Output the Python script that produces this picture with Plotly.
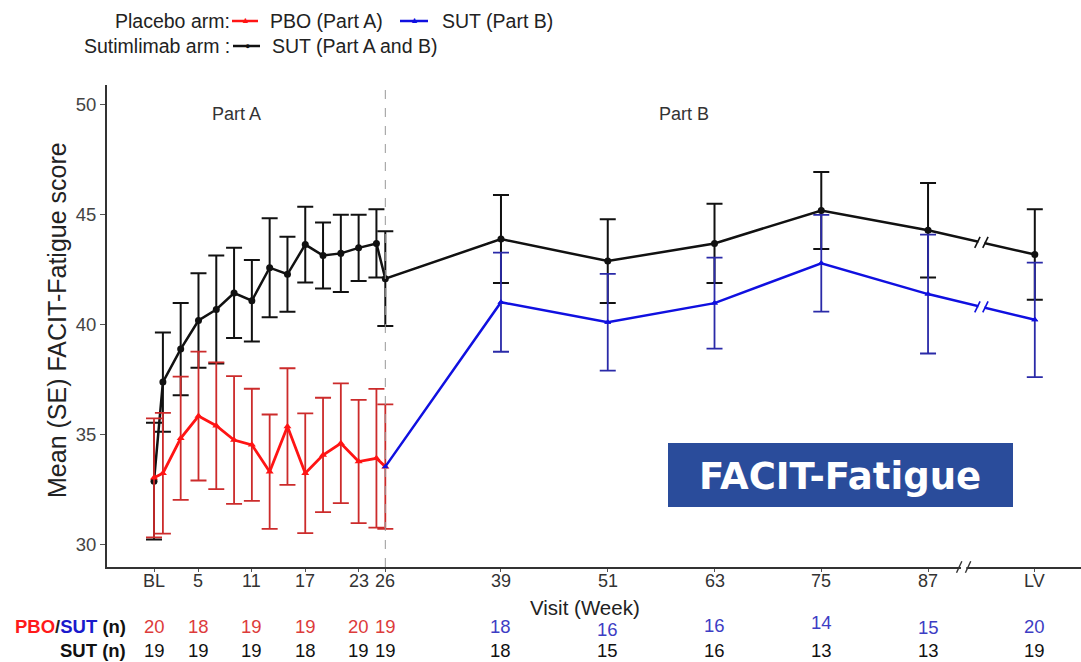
import plotly.graph_objects as go

# ---------------- data ----------------
tick_vals = [0, 5, 11, 17, 23, 26, 39, 51, 63, 75, 87, 99]
tick_text = ["BL", "5", "11", "17", "23", "26", "39", "51", "63", "75", "87", "LV"]

sut_weeks = [0, 1, 3, 5, 7, 9, 11, 13, 15, 17, 19, 21, 23, 25, 26, 39, 51, 63, 75, 87, 99]
sut_mean = [32.9, 37.4, 38.9, 40.2, 40.7, 41.45, 41.1, 42.6, 42.3, 43.65, 43.15, 43.25, 43.5, 43.7, 42.1,
            43.9, 42.9, 43.7, 45.2, 44.3, 43.2]
sut_se = [2.65, 2.25, 2.1, 2.15, 2.45, 2.05, 1.85, 2.25, 1.7, 1.72, 1.5, 1.75, 1.5, 1.55, 2.15,
          2.0, 1.9, 1.8, 1.75, 2.15, 2.06]

pbo_weeks = [0, 1, 3, 5, 7, 9, 11, 13, 15, 17, 19, 21, 23, 25, 26]
pbo_mean = [33.05, 33.26, 34.85, 35.86, 35.42, 34.77, 34.55, 33.33, 35.38, 33.26, 34.09, 34.62, 33.79, 33.94, 33.56]
pbo_se = [2.7, 2.74, 2.8, 2.93, 2.88, 2.9, 2.55, 2.6, 2.65, 2.72, 2.6, 2.72, 2.8, 3.15, 2.83]

sutb_weeks = [39, 51, 63, 75, 87, 99]
sutb_mean = [41.03, 40.12, 40.99, 42.8, 41.4, 40.23]
sutb_se = [2.25, 2.2, 2.07, 2.2, 2.7, 2.6]

n_weeks = [0, 5, 11, 17, 23, 26, 39, 51, 63, 75, 87, 99]
n_pbo_sut = [20, 18, 19, 19, 20, 19, 18, 16, 16, 14, 15, 20]
n_sut = [19, 19, 19, 18, 19, 19, 18, 15, 16, 13, 13, 19]

# ---------------- layout geometry ----------------
W, H = 1081, 662
L, R, T, B = 107, 1081, 85, 567
def px(x):
    return (x - L) / (R - L)
def py(y):
    return (B - y) / (B - T)

# small vertical pixel offsets of the first count row (as laid out in the original slide)
count_dy = [0, 0, 0, 0, 0, 0, 0, 3, -1, -4, 1, 0]

FONT = "Liberation Sans, Arial, sans-serif"
RED = "#ff1414"
RED_ERR = "#cc2b2b"
BLUE = "#1010e0"
BLUE_ERR = "#2a2aa8"
BLACK = "#111111"

fig = go.Figure()

# SUT (Part A and B) - black
fig.add_trace(go.Scatter(
    x=sut_weeks, y=sut_mean, mode="lines+markers",
    line=dict(color=BLACK, width=2.5),
    marker=dict(symbol="circle", size=7, color=BLACK),
    error_y=dict(type="data", array=sut_se, visible=True, color=BLACK, thickness=2, width=8),
    showlegend=False))

# PBO (Part A) - red
fig.add_trace(go.Scatter(
    x=pbo_weeks, y=pbo_mean, mode="lines+markers",
    line=dict(color=RED, width=2.8),
    marker=dict(symbol="triangle-up", size=7, color=RED),
    error_y=dict(type="data", array=pbo_se, visible=True, color=RED_ERR, thickness=1.8, width=8),
    showlegend=False))

# SUT (Part B) - blue, starts from the last PBO point
fig.add_trace(go.Scatter(
    x=[pbo_weeks[-1]] + sutb_weeks, y=[pbo_mean[-1]] + sutb_mean, mode="lines+markers",
    line=dict(color=BLUE, width=2.5),
    marker=dict(symbol="triangle-up", size=6, color=BLUE),
    showlegend=False))
fig.add_trace(go.Scatter(
    x=sutb_weeks, y=sutb_mean, mode="markers",
    marker=dict(symbol="triangle-up", size=6, color=BLUE),
    error_y=dict(type="data", array=sutb_se, visible=True, color=BLUE_ERR, thickness=1.8, width=8),
    showlegend=False))

shapes = []
# Part A / Part B divider
shapes.append(dict(type="line", xref="x", yref="paper", x0=26, x1=26, y0=0, y1=1,
                   line=dict(color="#999999", width=1, dash="dash")))

# break marks on the lines between week 87 and LV
def line_break(wk, y_val, color):
    dx, dy, gap = 0.3, 0.25, 0.45
    shapes.append(dict(type="line", xref="x", yref="y", x0=wk - gap + 0.1, x1=wk + gap - 0.1,
                       y0=y_val, y1=y_val, line=dict(color="white", width=5)))
    for c in (wk - gap, wk + gap):
        shapes.append(dict(type="line", xref="x", yref="y", x0=c - dx, x1=c + dx,
                           y0=y_val - dy, y1=y_val + dy, line=dict(color=color, width=1.6)))

bw = 93
for wks, ys, col in ((sut_weeks, sut_mean, BLACK), (sutb_weeks, sutb_mean, BLUE)):
    x0, x1 = wks[-2], wks[-1]
    y0, y1 = ys[-2], ys[-1]
    yb = y0 + (y1 - y0) * (bw - x0) / (x1 - x0)
    line_break(bw, yb, col)

# break on the x axis
ab = 91
shapes.append(dict(type="line", xref="x", yref="paper", x0=ab - 0.3, x1=ab + 0.3, y0=0, y1=0,
                   line=dict(color="white", width=4)))
for c in (ab - 0.5, ab + 0.5):
    shapes.append(dict(type="line", xref="x", yref="paper", x0=c - 0.3, x1=c + 0.3,
                       y0=-0.012, y1=0.012, line=dict(color="#333333", width=1.4)))

# FACIT-Fatigue box
shapes.append(dict(type="rect", xref="paper", yref="paper", x0=px(668), x1=px(1013),
                   y0=py(507), y1=py(443), fillcolor="#2a4c9b", line=dict(width=0), layer="above"))

# legend lines
for x0, x1, yy, col in ((232, 258, 21, RED), (400, 428, 21, BLUE), (233, 260, 46, BLACK)):
    shapes.append(dict(type="line", xref="paper", yref="paper", x0=px(x0), x1=px(x1),
                       y0=py(yy), y1=py(yy), line=dict(color=col, width=2.5)))

ann = []
def text(x, y, s, size=16, color="#222222", xanchor="left", xref="paper", angle=0, family=FONT):
    ann.append(dict(x=x, y=y, xref=xref, yref="paper", text=s, showarrow=False,
                    xanchor=xanchor, yanchor="middle", textangle=angle,
                    font=dict(family=family, size=size, color=color)))

# legend texts
LG = 19.5
text(px(232), py(21), "Placebo arm:", size=LG, xanchor="right")
text(px(245), py(19.5), "▲", size=9, color=RED, xanchor="center")
text(px(268), py(21), "PBO (Part A)", size=LG)
text(px(414), py(19.5), "▲", size=9, color=BLUE, xanchor="center")
text(px(440), py(21), "SUT (Part B)", size=LG)
text(px(232), py(46), "Sutimlimab arm :", size=LG, xanchor="right")
text(px(247), py(46), "●", size=9, color=BLACK, xanchor="center")
text(px(270), py(46), "SUT (Part A and B)", size=LG)

# part labels
text(px(236), py(114), "Part A", size=18, color="#333333", xanchor="center")
text(px(684), py(114), "Part B", size=18, color="#333333", xanchor="center")

# x tick labels (placed just under the axis)
for v, t in zip(tick_vals, tick_text):
    text(v, py(581), t, size=18, color="#333333", xanchor="center", xref="x")

# axis titles
text(px(585), py(607), "Visit (Week)", size=20.5, color="#222222", xanchor="center")
text(px(57), py(320), "Mean (SE) FACIT-Fatigue score", size=25, color="#222222",
     xanchor="center", angle=-90)

# box text
text(px(840), py(476), "<b>FACIT-Fatigue</b>", size=37, color="white", xanchor="center",
     family="DejaVu Sans, Verdana, sans-serif")

# n table
text(px(128), py(626), "<b><span style='color:#ff1a1a'>PBO</span>/<span style='color:#1a1acc'>SUT</span>"
     " <span style='color:#111111'>(n)</span></b>", size=18.5, xanchor="right")
text(px(128), py(650), "<b>SUT (n)</b>", size=18.5, color="#111111", xanchor="right")
for w, a, b, d in zip(n_weeks, n_pbo_sut, n_sut, count_dy):
    col = "#dd3b3b" if w <= 26 else "#3d3dc4"
    text(w, py(626 + d), str(a), size=18.5, color=col, xanchor="center", xref="x")
    text(w, py(650), str(b), size=18.5, color="#111111", xanchor="center", xref="x")

fig.update_layout(
    width=W, height=H,
    margin=dict(l=L, r=W - R, t=T, b=H - B),
    paper_bgcolor="white", plot_bgcolor="white",
    shapes=shapes, annotations=ann,
    xaxis=dict(range=[(L - 154) / 8.897, (R - 154) / 8.897], tickvals=tick_vals,
               showticklabels=False,
               showgrid=False, zeroline=False, showline=True, linecolor="#333333", linewidth=1.8,
               ticks="outside", ticklen=3, tickcolor="#555555"),
    yaxis=dict(range=[29.0, 50.9], tickvals=[30, 35, 40, 45, 50],
               showgrid=False, zeroline=False, showline=True, linecolor="#333333", linewidth=1.8,
               ticks="outside", ticklen=5, tickcolor="#555555",
               tickfont=dict(family=FONT, size=18.5, color="#444444")),
)

fig.write_html("out.html")
